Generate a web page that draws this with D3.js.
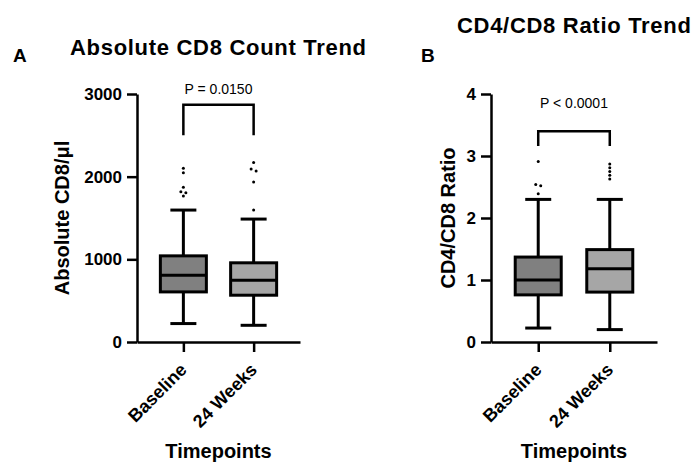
<!DOCTYPE html>
<html>
<head>
<meta charset="utf-8">
<script src="https://cdn.jsdelivr.net/npm/d3@7"></script>
<style>
  html, body { margin: 0; padding: 0; background: #fff; }
  svg { display: block; font-family: "Liberation Sans", Arial, Helvetica, sans-serif; }
</style>
</head>
<body>
<svg id="chart" width="694" height="463"></svg>
<script>
// ---------- data ----------
const categories = ["Baseline", "24 Weeks"];

const cd8Min    = [223, 202];
const cd8Q1     = [606, 566];
const cd8Median = [808, 748];
const cd8Q3     = [1042, 958];
const cd8Max    = [1596, 1487];
const cd8Outliers = [
  [2102, 2048, 1872, 1818, 1806, 1766],
  [2170, 2093, 2069, 1936, 1596]
];
const cd8Ticks = [0, 1000, 2000, 3000];

const ratioMin    = [0.225, 0.20];
const ratioQ1     = [0.76, 0.805];
const ratioMedian = [1.00, 1.18];
const ratioQ3     = [1.37, 1.49];
const ratioMax    = [2.30, 2.30];
const ratioOutliers = [
  [2.91, 2.54, 2.52, 2.39],
  [2.87, 2.81, 2.75, 2.69, 2.63]
];
const ratioTicks = [0, 1, 2, 3, 4];

const pValues = ["P = 0.0150", "P < 0.0001"];
const boxFills = ["#808080", "#a6a6a6"];

// ---------- drawing ----------
const svg = d3.select("#chart");
svg.append("rect").attr("width", 694).attr("height", 463).attr("fill", "#fff");

function drawPanel(o) {
  const g = svg.append("g");
  const x = d3.scalePoint().domain(categories).range([o.x0, o.x1]).padding(0.66);
  const y = d3.scaleLinear().domain([0, o.ticks[o.ticks.length - 1]]).range([342, 94]);

  const stats = categories.map((c, i) => ({
    c, i, min: o.min[i], q1: o.q1[i], med: o.med[i], q3: o.q3[i], max: o.max[i], out: o.out[i]
  }));

  const bw = 46, cw = 26;
  const box = g.selectAll(".box").data(stats).join("g").attr("class", "box");
  // whiskers
  box.append("line").attr("x1", d => x(d.c)).attr("x2", d => x(d.c))
    .attr("y1", d => y(d.q3)).attr("y2", d => y(d.max))
    .attr("stroke", "#000").attr("stroke-width", 3);
  box.append("line").attr("x1", d => x(d.c)).attr("x2", d => x(d.c))
    .attr("y1", d => y(d.q1)).attr("y2", d => y(d.min))
    .attr("stroke", "#000").attr("stroke-width", 3);
  // caps
  ["max", "min"].forEach(k => {
    box.append("line").attr("x1", d => x(d.c) - cw / 2).attr("x2", d => x(d.c) + cw / 2)
      .attr("y1", d => y(d[k])).attr("y2", d => y(d[k]))
      .attr("stroke", "#000").attr("stroke-width", 3);
  });
  // box
  box.append("rect").attr("x", d => x(d.c) - bw / 2).attr("width", bw)
    .attr("y", d => y(d.q3)).attr("height", d => y(d.q1) - y(d.q3))
    .attr("fill", d => boxFills[d.i]).attr("stroke", "#000").attr("stroke-width", 3);
  // median
  box.append("line").attr("x1", d => x(d.c) - bw / 2).attr("x2", d => x(d.c) + bw / 2)
    .attr("y1", d => y(d.med)).attr("y2", d => y(d.med))
    .attr("stroke", "#000").attr("stroke-width", 3);

  // outliers with small horizontal spreading for overlapping dots
  stats.forEach(d => {
    const pts = d.out.map(v => ({ v, py: y(v) })).sort((a, b) => a.py - b.py);
    const clusters = [];
    pts.forEach(p => {
      const last = clusters[clusters.length - 1];
      if (last && p.py - last[last.length - 1].py < 3) last.push(p); else clusters.push([p]);
    });
    clusters.forEach(cl => cl.forEach((p, j) => { p.dx = (j - (cl.length - 1) / 2) * 5; }));
    g.selectAll(null).data(pts).join("circle")
      .attr("cx", p => x(d.c) + p.dx).attr("cy", p => p.py).attr("r", 1.5).attr("fill", "#000");
  });

  // axes
  const yAxis = g.append("g").attr("transform", `translate(${o.x0},0)`)
    .call(d3.axisLeft(y).tickValues(o.ticks).tickFormat(d3.format("d")).tickSize(10).tickSizeOuter(0).tickPadding(5));
  yAxis.select(".domain").attr("stroke-width", 2.5);
  yAxis.selectAll(".tick line").attr("stroke-width", 2.5);
  yAxis.selectAll(".tick text").attr("font-size", 17).attr("font-weight", "bold")
    .attr("font-family", "Liberation Sans, Arial, sans-serif").attr("fill", "#000");

  const xAxis = g.append("g").attr("transform", `translate(0,342)`)
    .call(d3.axisBottom(x).tickSize(10).tickSizeOuter(0));
  xAxis.select(".domain").attr("stroke-width", 2.5);
  xAxis.selectAll(".tick line").attr("stroke-width", 2.5);
  xAxis.selectAll(".tick text")
    .attr("x", 0).attr("y", 0).attr("dy", 0)
    .attr("text-anchor", "end")
    .attr("transform", "translate(4,29) rotate(-45)")
    .attr("font-size", 18).attr("font-weight", "bold")
    .attr("font-family", "Liberation Sans, Arial, sans-serif").attr("fill", "#000");

  // significance bracket
  const xa = x(categories[0]), xb = x(categories[1]);
  g.append("path")
    .attr("d", `M${xa},${y(o.brLow)}V${y(o.brHigh)}H${xb}V${y(o.brLow)}`)
    .attr("fill", "none").attr("stroke", "#000").attr("stroke-width", 2.5);
  g.append("text").attr("x", (xa + xb) / 2).attr("y", y(o.pText))
    .attr("text-anchor", "middle").attr("font-size", 14).text(o.p);

  // axis titles
  g.append("text").attr("transform", `translate(${o.yLabelX},218) rotate(-90)`)
    .attr("text-anchor", "middle").attr("font-size", 20).attr("font-weight", "bold").text(o.yLabel);
  g.append("text").attr("x", (xa + xb) / 2).attr("y", 458)
    .attr("text-anchor", "middle").attr("font-size", 20).attr("font-weight", "bold").text("Timepoints");

  // panel title and letter
  g.append("text").attr("x", o.titleX).attr("y", o.titleY)
    .attr("font-size", 22).attr("font-weight", "bold").attr("letter-spacing", 0.7).text(o.title);
  g.append("text").attr("x", o.letterX).attr("y", 62)
    .attr("font-size", 19).attr("font-weight", "bold").text(o.letter);
}

drawPanel({
  x0: 137, x1: 300, ticks: cd8Ticks,
  min: cd8Min, q1: cd8Q1, med: cd8Median, q3: cd8Q3, max: cd8Max, out: cd8Outliers,
  brLow: 2500, brHigh: 2870, pText: 3000, p: pValues[0],
  yLabel: "Absolute CD8/μl", yLabelX: 69,
  title: "Absolute CD8 Count Trend", titleX: 70, titleY: 55,
  letter: "A", letterX: 13
});

drawPanel({
  x0: 491, x1: 657, ticks: ratioTicks,
  min: ratioMin, q1: ratioQ1, med: ratioMedian, q3: ratioQ3, max: ratioMax, out: ratioOutliers,
  brLow: 3.16, brHigh: 3.40, pText: 3.77, p: pValues[1],
  yLabel: "CD4/CD8 Ratio", yLabelX: 455,
  title: "CD4/CD8 Ratio Trend", titleX: 457, titleY: 33,
  letter: "B", letterX: 421
});
</script>
</body>
</html>
